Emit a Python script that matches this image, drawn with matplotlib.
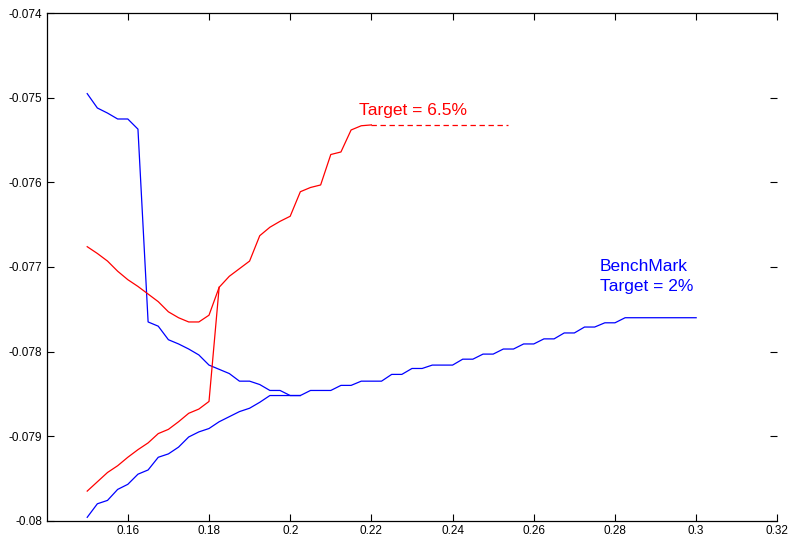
import numpy as np
import matplotlib.pyplot as plt

# x grid shared by the curves (step of 0.0025)
x_grid = [0.15, 0.1525, 0.155, 0.1575, 0.16, 0.1625, 0.165, 0.1675, 0.17, 0.1725,
          0.175, 0.1775, 0.18, 0.1825, 0.185, 0.1875, 0.19, 0.1925, 0.195, 0.1975,
          0.2, 0.2025, 0.205, 0.2075, 0.21, 0.2125, 0.215, 0.2175, 0.22, 0.2225,
          0.225, 0.2275, 0.23, 0.2325, 0.235, 0.2375, 0.24, 0.2425, 0.245, 0.2475,
          0.25, 0.2525, 0.255, 0.2575, 0.26, 0.2625, 0.265, 0.2675, 0.27, 0.2725,
          0.275, 0.2775, 0.28, 0.2825]

# benchmark (blue), lower branch running out to 0.3
blue_lo_x = x_grid + [0.3]
blue_lo_y = [-0.07996, -0.07980, -0.07976, -0.07963, -0.07957, -0.07945, -0.07940, -0.07925,
             -0.07921, -0.07913, -0.07901, -0.07895, -0.07891, -0.07883, -0.07877, -0.07871,
             -0.07867, -0.07860, -0.07852, -0.07852, -0.07852, -0.07852, -0.07846, -0.07846,
             -0.07846, -0.07840, -0.07840, -0.07835, -0.07835, -0.07835, -0.07827, -0.07827,
             -0.07820, -0.07820, -0.07816, -0.07816, -0.07816, -0.07809, -0.07809, -0.07803,
             -0.07803, -0.07797, -0.07797, -0.07791, -0.07791, -0.07785, -0.07785, -0.07778,
             -0.07778, -0.07771, -0.07771, -0.07766, -0.07766, -0.07760, -0.07760]
# benchmark upper branch
blue_hi_x = x_grid[:22]
blue_hi_y = [-0.07495, -0.07512, -0.07518, -0.07525, -0.07525, -0.07537, -0.07765, -0.07770,
             -0.07786, -0.07791, -0.07797, -0.07804, -0.07816, -0.07821, -0.07826, -0.07835,
             -0.07835, -0.07839, -0.07846, -0.07846, -0.07852, -0.07852]

# target 6.5% (red)
red_lo_x = x_grid[:14]
red_lo_y = [-0.07965, -0.07954, -0.07943, -0.07935, -0.07925, -0.07916, -0.07908, -0.07897,
            -0.07892, -0.07883, -0.07873, -0.07868, -0.07859, -0.07724]
red_hi_x = x_grid[:29]
red_hi_y = [-0.07676, -0.07684, -0.07693, -0.07705, -0.07715, -0.07723, -0.07732, -0.07741,
            -0.07753, -0.07760, -0.07765, -0.07765, -0.07757, -0.07724, -0.07711, -0.07702,
            -0.07693, -0.07663, -0.07653, -0.07646, -0.07640, -0.07611, -0.07606, -0.07603,
            -0.07567, -0.07564, -0.07538, -0.07533, -0.07532]
red_dash_x = [0.22, 0.2537]
red_dash_y = [-0.07532, -0.07532]

xticks = [0.16, 0.18, 0.2, 0.22, 0.24, 0.26, 0.28, 0.3, 0.32]
xtick_labels = ['0.16', '0.18', '0.2', '0.22', '0.24', '0.26', '0.28', '0.3', '0.32']
yticks = [-0.08, -0.079, -0.078, -0.077, -0.076, -0.075, -0.074]
ytick_labels = ['-0.08', '-0.079', '-0.078', '-0.077', '-0.076', '-0.075', '-0.074']

plt.rcParams['font.family'] = ['Liberation Sans', 'DejaVu Sans']

fig = plt.figure(figsize=(7.9, 5.42), dpi=100)
ax = fig.add_axes([0.059, 0.0393, 0.925, 0.9362])

lw = 0.9
ax.plot(blue_lo_x, blue_lo_y, color='#0000ff', lw=lw)
ax.plot(blue_hi_x, blue_hi_y, color='#0000ff', lw=lw)
ax.plot(red_lo_x, red_lo_y, color='#ff0000', lw=lw)
ax.plot(red_hi_x, red_hi_y, color='#ff0000', lw=lw)
ax.plot(red_dash_x, red_dash_y, color='#ff0000', lw=lw, dashes=(4.3, 2.9))

ax.text(0.2170, -0.07520, 'Target = 6.5%', color='#ff0000', fontsize=12.5,
        ha='left', va='baseline')
ax.text(0.2763, -0.07728, 'BenchMark\nTarget = 2%', color='#0000ff', fontsize=12.5,
        ha='left', va='baseline', linespacing=1.4)

ax.set_xlim(0.14, 0.32)
ax.set_ylim(-0.08, -0.074)
ax.set_xticks(xticks)
ax.set_xticklabels(xtick_labels)
ax.set_yticks(yticks)
ax.set_yticklabels(ytick_labels)
ax.tick_params(direction='in', length=5, width=0.8, labelsize=8.5, pad=3,
               top=True, right=True)
ax.spines['right'].set_visible(False)
for s in ['left', 'bottom', 'top']:
    ax.spines[s].set_linewidth(0.9)

fig.savefig('out.png', dpi=100)
